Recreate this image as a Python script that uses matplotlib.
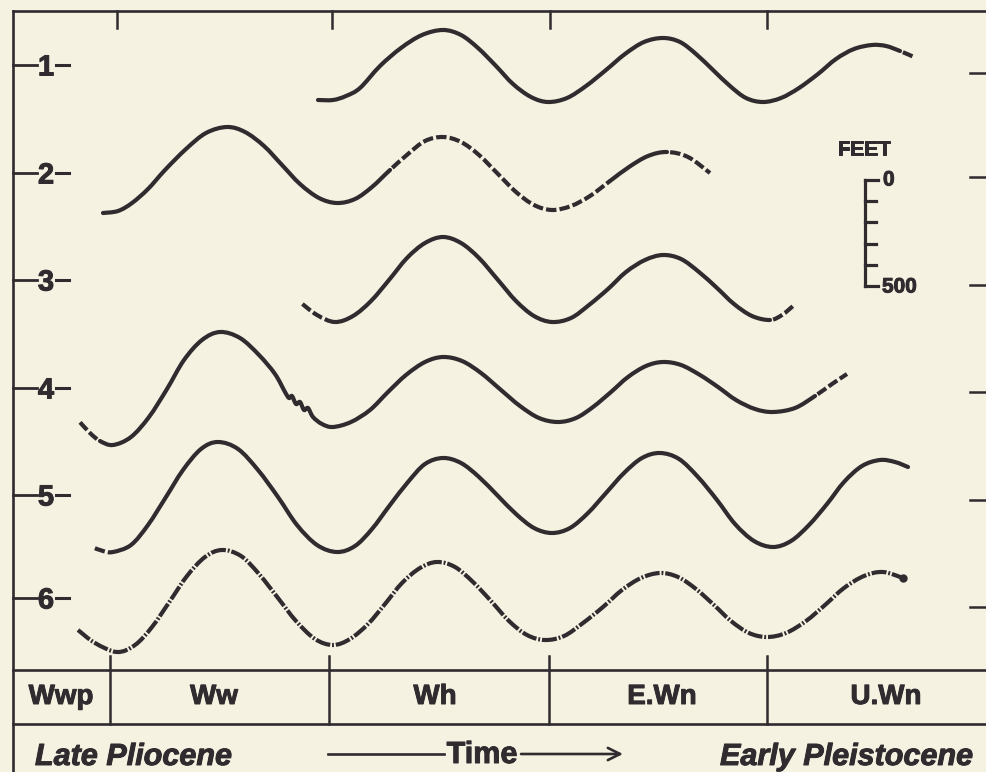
import matplotlib.pyplot as plt
import matplotlib.patheffects as pe
from matplotlib.path import Path
from matplotlib.patches import PathPatch

# colours of the scan
BG = '#f6f2e2'
INK = '#2f2b2f'

# stage / epoch labels along the time axis
stages = ['Wwp', 'Ww', 'Wh', 'E.Wn', 'U.Wn']
stage_x = [61, 214, 435, 662, 886]          # label centres
stage_bounds = [110, 329, 549, 767]         # stage boundaries on the time axis
top_ticks = [117, 332, 550, 767]

levels = ['1', '2', '3', '4', '5', '6']
level_y = [65, 173, 280, 388, 495, 598]
right_tick_y = [73, 177, 285, 392, 500, 607]

scale_ft = [0, 100, 200, 300, 400, 500]

# curves (time position, vertical position)
c1_x = [318, 333, 346, 360, 380, 401, 422, 443, 461, 478, 496, 513, 531, 548, 567, 586, 606, 625,
        644, 663, 680, 696, 713, 730, 746, 763, 781, 799, 818, 836, 854, 872, 886, 900, 914]
c1_y = [100, 100, 96, 88, 66, 48, 35, 30, 35, 48, 66, 84, 97, 102, 98, 86, 70, 54,
        42, 38, 42, 54, 70, 86, 98, 102, 98, 88, 74, 59, 49, 45, 46, 51, 57]
c1_parts = [('solid', 318, 900), ('dash', 900, 914)]

c2_x = [103, 118, 132, 148, 165, 186, 206, 227, 245, 264, 282, 300, 319, 337, 355, 372, 390, 408,
        425, 443, 461, 479, 498, 516, 534, 552, 571, 590, 610, 629, 648, 667, 688, 710]
c2_y = [213, 211, 203, 189, 170, 149, 133, 127, 132, 146, 165, 184, 198, 203, 199, 187, 170, 154,
        141, 137, 142, 155, 174, 192, 205, 210, 206, 196, 181, 167, 156, 152, 157, 173]
c2_parts = [('solid', 103, 390), ('dash', 390, 610), ('solid', 610, 667), ('dash', 667, 710)]

c3_x = [300, 317, 335, 353, 371, 389, 407, 425, 443, 461, 479, 498, 516, 534, 552, 571, 589,
        608, 626, 645, 663, 681, 699, 717, 734, 752, 770, 782, 793]
c3_y = [302, 315, 322, 316, 301, 280, 258, 243, 237, 243, 258, 280, 301, 316, 322, 318, 305,
        289, 272, 260, 255, 259, 272, 288, 304, 316, 320, 315, 306]
c3_parts = [('dash', 300, 335), ('solid', 335, 770), ('dash', 770, 793)]

c4_x = [78, 90, 100, 113, 131, 149, 167, 184, 202, 220, 240, 259, 275, 285, 289, 292, 296,
        300, 304, 308, 313, 322, 333, 351, 370, 388, 406, 425, 443, 462, 481, 501, 520, 539,
        558, 576, 593, 611, 628, 646, 663, 681, 700, 718, 736, 755, 773, 795, 815, 832, 847]
c4_y = [420, 433, 441, 445, 437, 417, 389, 360, 340, 332, 338, 355, 374, 392, 398, 396, 404,
        402, 410, 408, 417, 424, 427, 422, 410, 392, 375, 362, 357, 361, 373, 390, 406, 418,
        422, 418, 407, 392, 377, 366, 362, 365, 375, 387, 400, 409, 412, 408, 396, 384, 374]
c4_parts = [('dash', 78, 100), ('solid', 100, 815), ('dash', 815, 847)]

c5_x = [92, 103, 113, 131, 148, 166, 183, 201, 218, 238, 258, 278, 297, 317, 337, 355, 372,
        390, 408, 425, 443, 461, 479, 498, 516, 534, 552, 570, 588, 606, 624, 642, 660, 679,
        698, 717, 735, 754, 773, 791, 809, 827, 844, 862, 880, 895, 908]
c5_y = [547, 551, 552, 545, 525, 497, 470, 449, 442, 449, 470, 497, 525, 545, 552, 546, 529,
        505, 482, 464, 458, 463, 477, 496, 514, 528, 533, 528, 513, 493, 473, 458, 453, 459,
        477, 500, 524, 541, 547, 541, 525, 504, 482, 466, 460, 462, 467]
c5_parts = [('dash', 92, 113), ('solid', 113, 908)]

c6_x = [78, 95, 117, 135, 152, 170, 187, 205, 222, 241, 259, 278, 296, 315, 333, 350, 368,
        385, 402, 420, 437, 455, 473, 491, 509, 527, 545, 564, 583, 603, 622, 641, 660, 678,
        696, 714, 731, 749, 767, 786, 806, 825, 844, 864, 883, 903]
c6_y = [630, 643, 652, 645, 627, 601, 576, 557, 550, 556, 574, 598, 621, 639, 645, 639, 624,
        604, 583, 568, 562, 567, 582, 601, 621, 635, 640, 636, 623, 607, 590, 578, 573, 577,
        589, 605, 621, 633, 637, 633, 621, 605, 588, 576, 572, 578]
c6_parts = [('dashdot', 78, 903)]

curves = [(c1_x, c1_y, c1_parts), (c2_x, c2_y, c2_parts), (c3_x, c3_y, c3_parts),
          (c4_x, c4_y, c4_parts), (c5_x, c5_y, c5_parts), (c6_x, c6_y, c6_parts)]

LW = 3.0
styles = {'solid': '-', 'dash': (2.5, (2.5, 0.75)), 'dashdot': (0, (3.6, 0.45, 0.45, 0.45))}
bold_fx = [pe.withStroke(linewidth=0.7, foreground=INK)]


def smooth_segments(xs, ys):
    # cubic bezier pieces through the read points (Catmull-Rom tangents)
    pts = list(zip(xs, ys))
    n = len(pts)
    segs = []
    for i in range(n - 1):
        p0 = pts[max(i - 1, 0)]
        p1 = pts[i]
        p2 = pts[i + 1]
        p3 = pts[min(i + 2, n - 1)]
        c1 = (p1[0] + (p2[0] - p0[0]) / 6, p1[1] + (p2[1] - p0[1]) / 6)
        c2 = (p2[0] - (p3[0] - p1[0]) / 6, p2[1] - (p3[1] - p1[1]) / 6)
        segs.append((p1, c1, c2, p2))
    return segs


fig = plt.figure(figsize=(9.87, 7.72), dpi=100)
fig.patch.set_facecolor(BG)
ax = fig.add_axes([0, 0, 1, 1])
ax.set_xlim(0, 987)
ax.set_ylim(772, 0)
ax.axis('off')

# frame
ax.plot([13, 987], [11, 11], color=INK, lw=1.9)
ax.plot([13, 13], [11, 772], color=INK, lw=1.9)
for x in top_ticks:
    ax.plot([x, x], [11, 28], color=INK, lw=1.8)
for y in right_tick_y:
    ax.plot([970, 987], [y, y], color=INK, lw=1.8)

# curves
for xs, ys, parts in curves:
    segs = smooth_segments(xs, ys)
    for style, a, b in parts:
        verts, codes = [], []
        for p1, c1, c2, p2 in segs:
            if p1[0] >= a and p2[0] <= b:
                if not verts:
                    verts.append(p1)
                    codes.append(Path.MOVETO)
                verts += [c1, c2, p2]
                codes += [Path.CURVE4] * 3
        patch = PathPatch(Path(verts, codes), fill=False, edgecolor=INK, lw=LW,
                          linestyle=styles[style], capstyle='round' if style == 'solid' else 'butt',
                          joinstyle='round')
        ax.add_patch(patch)
ax.plot(c6_x[-1], c6_y[-1], 'o', ms=5, color=INK)

# level labels on the left
for lab, y in zip(levels, level_y):
    ax.plot([13, 37], [y, y], color=INK, lw=2.0)
    ax.text(46, y + 10.5, lab, ha='center', va='baseline', fontsize=21,
            fontweight='bold', family='Liberation Sans', color=INK, path_effects=bold_fx)
    ax.plot([56, 69], [y, y], color=INK, lw=2.2)

# depth scale
sx = 865
sy0, sy1 = 180, 286
ticks_y = [sy0 + f * (sy1 - sy0) / 500 for f in scale_ft]
ax.plot([sx, sx], [sy0, sy1], color=INK, lw=2.3)
for f, y in zip(scale_ft, ticks_y):
    ax.plot([sx, sx + (13 if f in (0, 500) else 11)], [y, y], color=INK, lw=2.3)
ax.text(864, 155, 'FEET', ha='center', va='baseline', fontsize=15,
        fontweight='bold', family='Liberation Sans', color=INK, path_effects=bold_fx)
ax.text(883, sy0 + 5.5, '0', ha='left', va='baseline', fontsize=15,
        fontweight='bold', family='Liberation Sans', color=INK, path_effects=bold_fx)
ax.text(882, sy1 + 6.5, '500', ha='left', va='baseline', fontsize=15,
        fontweight='bold', family='Liberation Sans', color=INK, path_effects=bold_fx)

# stage table at the bottom
ax.plot([13, 987], [670, 670], color=INK, lw=1.9)
ax.plot([13, 987], [724, 724], color=INK, lw=1.9)
for x in stage_bounds:
    ax.plot([x, x], [656, 724], color=INK, lw=1.8)
for lab, x in zip(stages, stage_x):
    ax.text(x, 704, lab, ha='center', va='baseline', fontsize=20,
            fontweight='bold', family='Liberation Sans', color=INK, path_effects=bold_fx)

ax.text(35, 765, 'Late Pliocene', ha='left', va='baseline', fontsize=22,
        fontweight='bold', style='italic', family='Liberation Sans', color=INK,
        path_effects=bold_fx)
ax.text(973, 765, 'Early Pleistocene', ha='right', va='baseline', fontsize=22,
        fontweight='bold', style='italic', family='Liberation Sans', color=INK,
        path_effects=bold_fx)
ax.text(482, 763, 'Time', ha='center', va='baseline', fontsize=22,
        fontweight='bold', family='Liberation Sans', color=INK, path_effects=bold_fx)
ax.plot([328, 444], [754, 754], color=INK, lw=1.9)
ax.annotate('', xy=(623, 754), xytext=(521, 754),
            arrowprops=dict(arrowstyle='->', color=INK, lw=1.9, mutation_scale=22,
                            shrinkA=0, shrinkB=0))

fig.savefig('out.png', dpi=100, facecolor=BG)
plt.close(fig)
